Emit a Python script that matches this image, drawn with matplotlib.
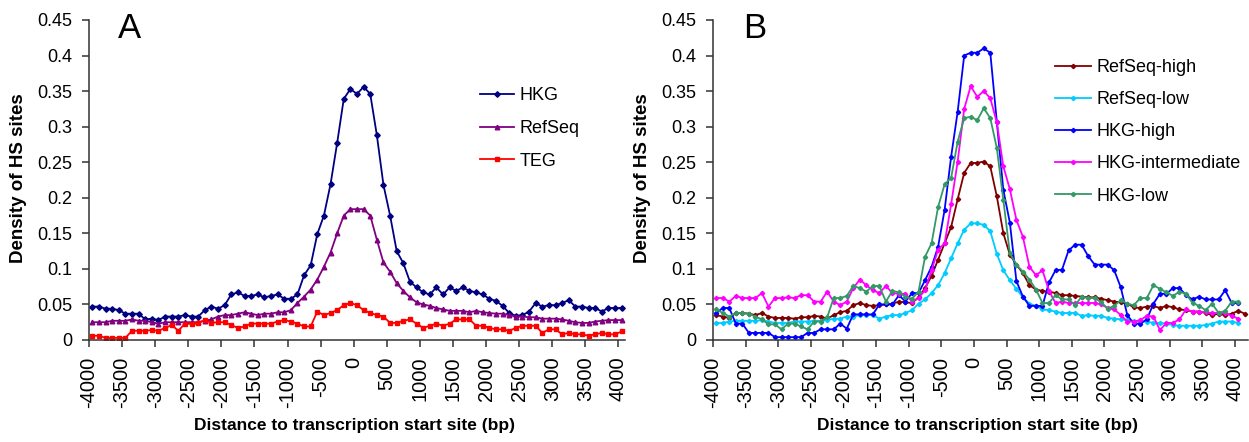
import numpy as np
import matplotlib
matplotlib.use("Agg")
import matplotlib.pyplot as plt

plt.rcParams['font.family'] = ['Liberation Sans', 'DejaVu Sans']

# ---------------- data ----------------
dist_A = list(range(-4000, 4001, 100))          # 81 positions
dist_B = list(range(-4000, 4101, 100))          # 82 positions (RefSeq-high has one extra)
xtick_labels = list(range(-4000, 4001, 500))
ytick_values = [0, 0.05, 0.1, 0.15, 0.2, 0.25, 0.3, 0.35, 0.4, 0.45]

hkg = [0.047, 0.047, 0.044, 0.044, 0.042, 0.037, 0.037, 0.037, 0.029, 0.030,
       0.028, 0.033, 0.033, 0.033, 0.035, 0.033, 0.033, 0.042, 0.047, 0.044,
       0.049, 0.064, 0.067, 0.062, 0.062, 0.064, 0.060, 0.062, 0.064, 0.058,
       0.058, 0.064, 0.091, 0.105, 0.149, 0.175, 0.219, 0.277, 0.339, 0.353,
       0.346, 0.356, 0.346, 0.288, 0.218, 0.175, 0.125, 0.108, 0.082, 0.074,
       0.067, 0.064, 0.074, 0.064, 0.074, 0.069, 0.074, 0.069, 0.067, 0.064,
       0.058, 0.055, 0.048, 0.038, 0.034, 0.035, 0.040, 0.052, 0.047, 0.049,
       0.049, 0.052, 0.056, 0.047, 0.047, 0.045, 0.045, 0.040, 0.045, 0.045,
       0.045]
refseq = [0.025, 0.025, 0.025, 0.027, 0.027, 0.027, 0.029, 0.027, 0.027, 0.025,
          0.023, 0.025, 0.025, 0.025, 0.025, 0.025, 0.025, 0.027, 0.029, 0.033,
          0.035, 0.035, 0.037, 0.039, 0.037, 0.035, 0.037, 0.037, 0.039, 0.039,
          0.042, 0.052, 0.061, 0.071, 0.085, 0.103, 0.123, 0.150, 0.175, 0.184,
          0.184, 0.184, 0.175, 0.141, 0.109, 0.096, 0.080, 0.069, 0.060, 0.053,
          0.050, 0.048, 0.045, 0.043, 0.041, 0.041, 0.041, 0.039, 0.041, 0.039,
          0.038, 0.037, 0.037, 0.035, 0.033, 0.033, 0.032, 0.032, 0.030, 0.030,
          0.030, 0.029, 0.027, 0.025, 0.024, 0.024, 0.026, 0.027, 0.028, 0.028,
          0.028]
teg = [0.006, 0.006, 0.003, 0.003, 0.003, 0.003, 0.013, 0.013, 0.013, 0.014,
       0.013, 0.017, 0.021, 0.013, 0.023, 0.023, 0.024, 0.028, 0.024, 0.025,
       0.025, 0.021, 0.017, 0.019, 0.023, 0.023, 0.023, 0.023, 0.026, 0.028,
       0.026, 0.023, 0.019, 0.019, 0.040, 0.035, 0.038, 0.042, 0.049, 0.052,
       0.049, 0.042, 0.038, 0.035, 0.033, 0.024, 0.024, 0.027, 0.029, 0.023,
       0.017, 0.020, 0.023, 0.020, 0.023, 0.029, 0.029, 0.029, 0.020, 0.020,
       0.017, 0.015, 0.015, 0.013, 0.017, 0.020, 0.020, 0.020, 0.010, 0.015,
       0.015, 0.008, 0.010, 0.008, 0.008, 0.006, 0.008, 0.010, 0.008, 0.008,
       0.012]

refseq_high = [0.035, 0.033, 0.031, 0.038, 0.038, 0.037, 0.035, 0.038, 0.033, 0.031,
               0.031, 0.031, 0.030, 0.032, 0.032, 0.034, 0.033, 0.030, 0.035, 0.039,
               0.041, 0.049, 0.052, 0.049, 0.048, 0.049, 0.050, 0.051, 0.054, 0.053,
               0.052, 0.060, 0.073, 0.090, 0.113, 0.136, 0.159, 0.198, 0.235, 0.249,
               0.249, 0.251, 0.244, 0.202, 0.150, 0.120, 0.106, 0.094, 0.077, 0.071,
               0.069, 0.068, 0.066, 0.063, 0.063, 0.062, 0.061, 0.060, 0.060, 0.058,
               0.056, 0.054, 0.053, 0.051, 0.046, 0.045, 0.047, 0.048, 0.045, 0.048,
               0.046, 0.043, 0.042, 0.040, 0.040, 0.038, 0.035, 0.037, 0.035, 0.037,
               0.041, 0.037]
refseq_low = [0.024, 0.024, 0.026, 0.027, 0.027, 0.027, 0.027, 0.028, 0.026, 0.024,
              0.024, 0.024, 0.026, 0.026, 0.026, 0.027, 0.027, 0.028, 0.030, 0.030,
              0.033, 0.033, 0.035, 0.035, 0.035, 0.030, 0.033, 0.035, 0.035, 0.038,
              0.042, 0.051, 0.057, 0.066, 0.077, 0.094, 0.115, 0.136, 0.155, 0.164,
              0.164, 0.162, 0.153, 0.121, 0.098, 0.084, 0.072, 0.060, 0.051, 0.048,
              0.043, 0.042, 0.040, 0.038, 0.038, 0.038, 0.034, 0.035, 0.034, 0.034,
              0.031, 0.030, 0.029, 0.028, 0.027, 0.026, 0.026, 0.024, 0.024, 0.023,
              0.021, 0.020, 0.020, 0.020, 0.020, 0.021, 0.023, 0.026, 0.026, 0.026,
              0.024]
hkg_high = [0.038, 0.045, 0.045, 0.023, 0.023, 0.010, 0.010, 0.010, 0.010, 0.004,
            0.004, 0.004, 0.004, 0.004, 0.010, 0.010, 0.015, 0.015, 0.015, 0.023,
            0.016, 0.036, 0.036, 0.036, 0.036, 0.050, 0.050, 0.050, 0.063, 0.054,
            0.066, 0.066, 0.084, 0.103, 0.131, 0.183, 0.258, 0.321, 0.400, 0.404,
            0.404, 0.410, 0.404, 0.307, 0.211, 0.165, 0.083, 0.061, 0.048, 0.048,
            0.048, 0.081, 0.098, 0.099, 0.126, 0.134, 0.134, 0.118, 0.106, 0.106,
            0.106, 0.098, 0.074, 0.035, 0.023, 0.023, 0.029, 0.051, 0.065, 0.065,
            0.073, 0.073, 0.063, 0.057, 0.061, 0.057, 0.057, 0.057, 0.070, 0.052,
            0.052]
hkg_intermediate = [0.059, 0.059, 0.054, 0.062, 0.059, 0.059, 0.059, 0.066, 0.047, 0.059,
                    0.059, 0.060, 0.059, 0.063, 0.063, 0.054, 0.054, 0.068, 0.054, 0.049,
                    0.054, 0.073, 0.085, 0.077, 0.070, 0.066, 0.076, 0.066, 0.065, 0.065,
                    0.054, 0.059, 0.070, 0.098, 0.127, 0.136, 0.191, 0.251, 0.325, 0.357,
                    0.342, 0.350, 0.340, 0.306, 0.244, 0.212, 0.169, 0.145, 0.103, 0.091,
                    0.098, 0.069, 0.052, 0.054, 0.052, 0.052, 0.052, 0.052, 0.052, 0.050,
                    0.045, 0.043, 0.035, 0.026, 0.026, 0.028, 0.034, 0.033, 0.014, 0.024,
                    0.024, 0.029, 0.043, 0.040, 0.040, 0.039, 0.038, 0.038, 0.038, 0.034,
                    0.030]
hkg_low = [0.043, 0.038, 0.033, 0.038, 0.038, 0.037, 0.033, 0.029, 0.022, 0.022,
           0.015, 0.023, 0.023, 0.019, 0.015, 0.026, 0.026, 0.032, 0.059, 0.059,
           0.062, 0.076, 0.073, 0.068, 0.076, 0.076, 0.054, 0.069, 0.067, 0.061,
           0.058, 0.068, 0.117, 0.136, 0.187, 0.219, 0.228, 0.279, 0.312, 0.314,
           0.309, 0.326, 0.312, 0.270, 0.197, 0.122, 0.106, 0.096, 0.085, 0.071,
           0.052, 0.052, 0.063, 0.057, 0.057, 0.049, 0.061, 0.059, 0.059, 0.053,
           0.044, 0.048, 0.056, 0.051, 0.049, 0.059, 0.059, 0.077, 0.072, 0.067,
           0.062, 0.068, 0.065, 0.052, 0.048, 0.042, 0.051, 0.038, 0.041, 0.054,
           0.054]

# ---------------- figure ----------------
W, H = 1249, 442
fig = plt.figure(figsize=(W / 100, H / 100), dpi=100)

def px_axes(left, top, right, bottom):
    return fig.add_axes([left / W, 1 - bottom / H, (right - left) / W, (bottom - top) / H])

axA = px_axes(89, 20, 625, 340)
axB = px_axes(713, 20, 1248, 340)

lw = 1.3
axA.plot(dist_A, hkg, color='#000080', lw=lw, marker='D', ms=2.8, label='HKG')
axA.plot(dist_A, refseq, color='#800080', lw=lw, marker='^', ms=3.3, label='RefSeq')
axA.plot(dist_A, teg, color='#FF0000', lw=lw, marker='s', ms=2.8, label='TEG')

axB.plot(dist_B, refseq_high, color='#800000', lw=lw, marker='D', ms=2.2, label='RefSeq-high')
axB.plot(dist_A, refseq_low, color='#00CCFF', lw=lw, marker='D', ms=2.2, label='RefSeq-low')
axB.plot(dist_A, hkg_high, color='#0000FF', lw=lw, marker='D', ms=2.2, label='HKG-high')
axB.plot(dist_A, hkg_intermediate, color='#FF00FF', lw=lw, marker='D', ms=2.2, label='HKG-intermediate')
axB.plot(dist_A, hkg_low, color='#339966', lw=lw, marker='D', ms=2.2, label='HKG-low')

step = dist_A[1] - dist_A[0]
for ax, dist, letter, lx in ((axA, dist_A, 'A', 118), (axB, dist_B, 'B', 743)):
    ax.set_xlim(dist[0] - step / 2, dist[-1] + step / 2)
    ax.set_ylim(0, 0.45)
    ax.set_xticks([v - step / 2 for v in xtick_labels])
    ax.set_xticklabels([str(v) for v in xtick_labels], rotation=90, fontsize=14.5)
    ax.set_yticks(ytick_values)
    ax.set_yticklabels(['%g' % v for v in ytick_values], fontsize=13)
    for s in ('top', 'right'):
        ax.spines[s].set_visible(False)
    for s in ('left', 'bottom'):
        ax.spines[s].set_color('#333333')
        ax.spines[s].set_linewidth(1.1)
    ax.tick_params(axis='both', direction='out', length=5, width=1.1, color='#333333', pad=7)
    ax.set_ylabel('Density of HS sites', fontsize=13.5, fontweight='bold', va='center', ha='center')
    ax.yaxis.set_label_coords(-0.131, 0.506)
    ax.set_xlabel('Distance to transcription start site (bp)', fontsize=12.5, fontweight='bold',
                  va='center', ha='center')
    ax.xaxis.set_label_coords(0.495, -0.266)
    fig.text(lx / W, 1 - 38 / H, letter, fontsize=25, va='baseline', ha='left')
    ax.set_facecolor('white')

legA = axA.legend(loc='upper left', bbox_to_anchor=(480 / W, 1 - 87 / H), bbox_transform=fig.transFigure,
                  frameon=False, fontsize=13, handlelength=1.9, handletextpad=0.3, labelspacing=0.88,
                  borderaxespad=0, borderpad=0)
legB = axB.legend(loc='upper left', bbox_to_anchor=(1055 / W, 1 - 59 / H), bbox_transform=fig.transFigure,
                  frameon=False, fontsize=13, handlelength=2.0, handletextpad=0.3, labelspacing=0.84,
                  borderaxespad=0, borderpad=0)

fig.savefig('out.png', dpi=100, facecolor='white')
